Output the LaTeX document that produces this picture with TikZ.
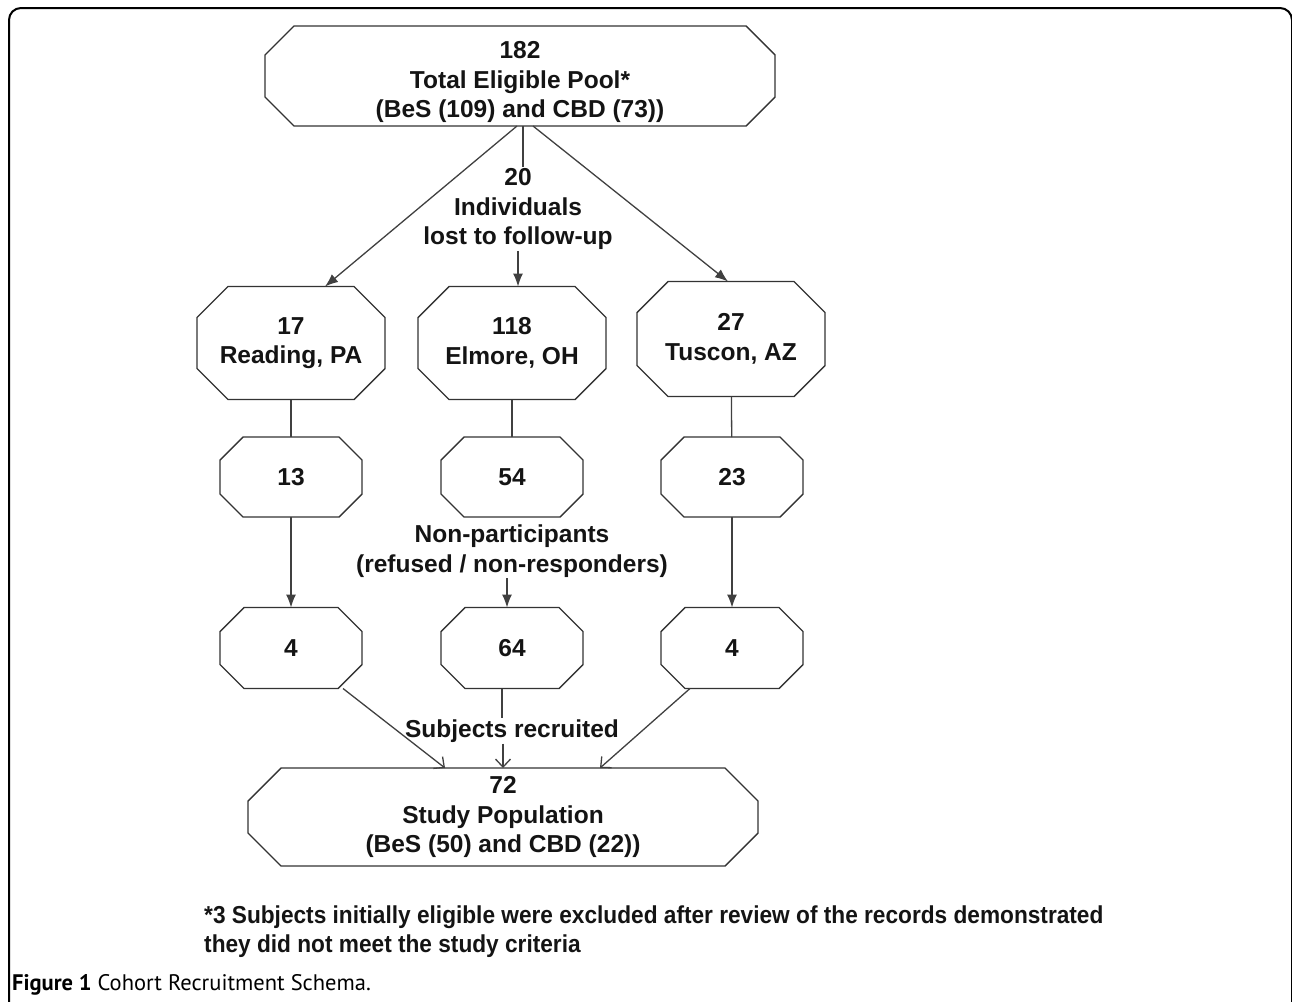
\documentclass[tikz,border=0pt]{standalone}
\usepackage{fontspec}
\setmainfont{Liberation Sans}
\newfontfamily\notefont[FakeStretch=0.925]{Liberation Sans}
\newfontfamily\capfont{PT Sans}
\usetikzlibrary{arrows.meta}
\tikzset{
  octbox/.style={inner sep=0pt, outer sep=0pt, align=center, text=black!92,
    font=\bfseries\fontsize{24.5}{29.5}\selectfont},
  octline/.style={draw=black!80, line width=1.4pt, line join=miter},
  lbl/.style={align=center, inner sep=1pt, text=black!92,
    font=\bfseries\fontsize{24.5}{29.5}\selectfont},
  conn/.style={draw=black!75, line width=1.3pt},
  fillarrow/.style={conn, -{Latex[length=13pt,width=10pt]}},
  openarrow/.style={conn, -{Straight Barb[length=8pt,width=15pt]}},
}
\begin{document}
\begin{tikzpicture}[x=1pt, y=-1pt]
      \useasboundingbox (0,0) rectangle (1292,1001);
      \draw[line width=2pt, rounded corners=12pt] (9,1010) -- (9,8) -- (1292,8) -- (1292,1010);
      \node[octbox, minimum width=510pt, minimum height=100pt] (pool) at (520,76) {\rule{0pt}{30pt}182\\Total Eligible Pool*\\(BeS (109) and CBD (73))};
      \node[lbl] (lost) at (518,209) {20\\Individuals\\lost to follow-up};
      \node[octbox, minimum width=188pt, minimum height=113pt] (read) at (291,343) {17\\Reading, PA};
      \node[octbox, minimum width=188pt, minimum height=113pt] (elm) at (512,343) {118\\Elmore, OH};
      \node[octbox, minimum width=188pt, minimum height=115pt] (tus) at (731,339) {27\\Tuscon, AZ};
      \node[octbox, minimum width=142pt, minimum height=80pt] (read2) at (291,477) {13};
      \node[octbox, minimum width=142pt, minimum height=80pt] (elm2) at (512,477) {54};
      \node[octbox, minimum width=142pt, minimum height=80pt] (tus2) at (732,477) {23};
      \node[lbl] (nonpart) at (512,551) {Non-participants\\(refused / non-responders)};
      \node[octbox, minimum width=142pt, minimum height=81pt] (read3) at (291,648) {4};
      \node[octbox, minimum width=142pt, minimum height=81pt] (elm3) at (512,648) {64};
      \node[octbox, minimum width=142pt, minimum height=81pt] (tus3) at (732,648) {4};
      \node[lbl] (recr) at (512,731) {Subjects recruited};
      \node[octbox, minimum width=510pt, minimum height=98pt] (study) at (503,817) {72\\Study Population\\(BeS (50) and CBD (22))};
      \foreach \n/\c in {pool/29, read/31, elm/31, tus/31, read2/23, elm2/23, tus2/23, read3/24, elm3/24, tus3/24, study/33}
        \draw[octline] ([xshift=\c pt]\n.north west) -- ([xshift=-\c pt]\n.north east) -- ([yshift=-\c pt]\n.north east) -- ([yshift=\c pt]\n.south east) -- ([xshift=-\c pt]\n.south east) -- ([xshift=\c pt]\n.south west) -- ([yshift=\c pt]\n.south west) -- ([yshift=-\c pt]\n.north west) -- cycle;
      \draw[fillarrow] ([xshift=-3pt]pool.south) -- ([xshift=34pt]read.north);
      \draw[fillarrow] ([xshift=13pt]pool.south) -- ([xshift=-3pt]tus.north);
      \draw[conn] ([xshift=3pt]pool.south) -- ([xshift=5pt]lost.north);
      \draw[fillarrow] (lost.south) -- (lost.south |- elm.north);
      \draw[conn] (read) -- (read2);
      \draw[conn] (elm) -- (elm2);
      \draw[conn] (tus) -- (tus2);
      \draw[fillarrow] (read2) -- (read3);
      \draw[fillarrow] (tus2) -- (tus3);
      \draw[fillarrow] ([xshift=-5pt]nonpart.south) -- ([xshift=-5pt]elm3.north);
      \draw[conn] ([xshift=-10pt]elm3.south) -- ([xshift=-10pt]recr.north);
      \draw[openarrow] (recr.south -| study.north) -- (study.north);
      \draw[openarrow] ([xshift=52pt]read3.south) -- ([xshift=-58pt]study.north);
      \draw[openarrow] ([xshift=-42pt]tus3.south) -- ([xshift=97pt]study.north);
      \node[anchor=west, align=left, inner sep=0pt, text=black!92, font=\notefont\bfseries\fontsize{24.5}{29}\selectfont] (note) at (204,932) {*3 Subjects initially eligible were excluded after review of the records demonstrated\\they did not meet the study criteria};
      \node[anchor=west, inner sep=0pt, font=\capfont\fontsize{22.5}{26}\selectfont] (caption) at (12,985) {\textbf{Figure 1} Cohort Recruitment Schema.};
\end{tikzpicture}
\end{document}
